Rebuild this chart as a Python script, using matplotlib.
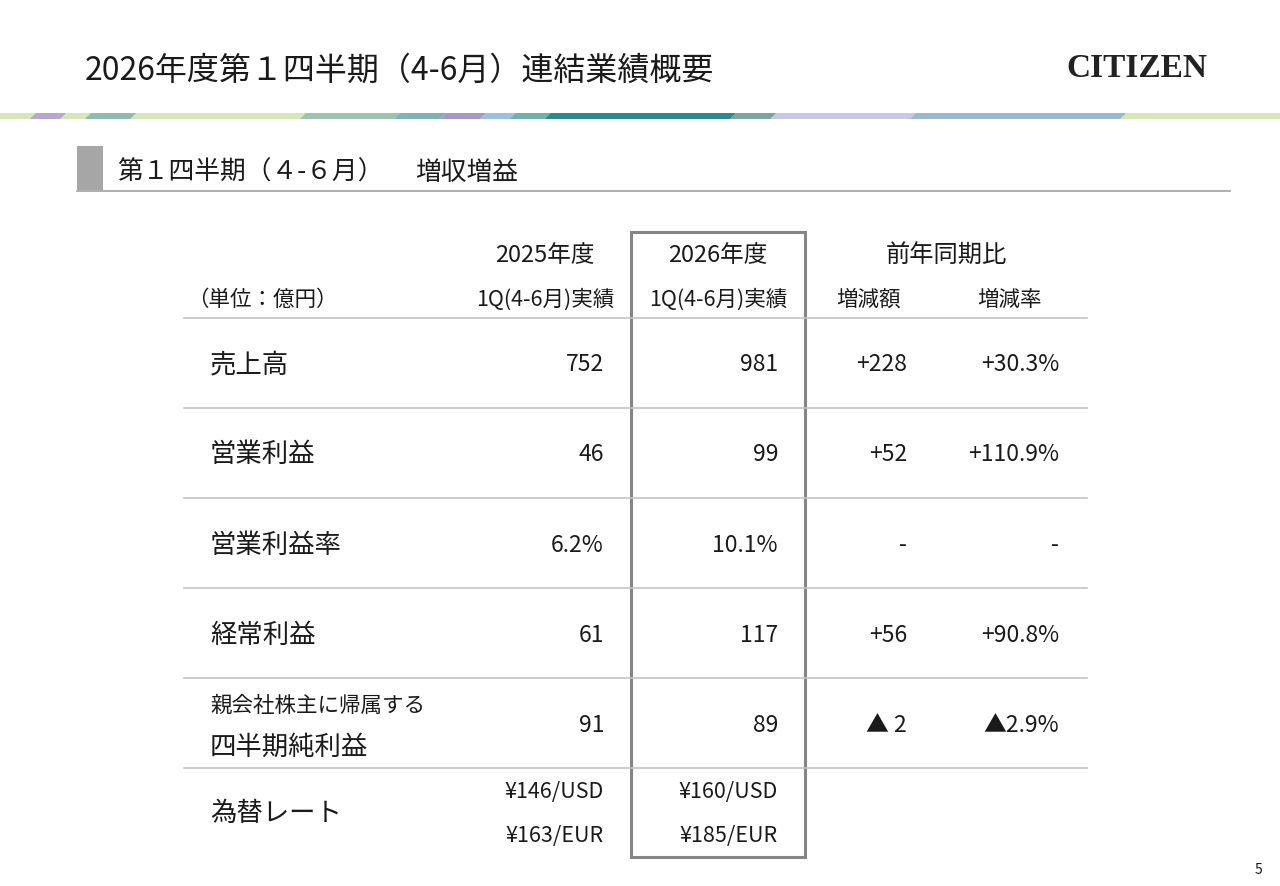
import matplotlib
matplotlib.use("Agg")
import matplotlib.pyplot as plt
from matplotlib.patches import Rectangle, Polygon

plt.rcParams['font.family'] = ['Noto Sans CJK JP', 'DejaVu Sans']

# table data
row_labels = ["売上高", "営業利益", "営業利益率", "経常利益", "四半期純利益"]
prev_vals = ["752", "46", "6.2%", "61", "91"]
curr_vals = ["981", "99", "10.1%", "117", "89"]
diff_vals = ["+228", "+52", "-", "+56", "▲ 2"]
rate_vals = ["+30.3%", "+110.9%", "-", "+90.8%", "▲2.9%"]
fx_prev = ["¥146/USD", "¥163/EUR"]
fx_curr = ["¥160/USD", "¥185/EUR"]

W, H = 1280, 886
fig = plt.figure(figsize=(W / 100, H / 100), dpi=100)
ax = fig.add_axes([0, 0, 1, 1])
ax.set_xlim(0, W)
ax.set_ylim(H, 0)
ax.axis('off')

txt = '#1a1a1a'
dy = 2.5  # CJK fonts sit a little high with va='center'

# title and logo
ax.text(85, 68 + dy, "2026年度第１四半期（4-6月）連結業績概要", fontsize=23, color=txt,
        va='center', ha='left')
ax.text(1207, 68, "CITIZEN", fontsize=24, fontweight='bold', color='#222222',
        family='Liberation Serif', va='center', ha='right')

# decorative stripe
ax.add_patch(Rectangle((0, 113), W, 6, color='#d5e6b8', lw=0))
segs = [(30, 60, '#b7a6cf'), (85, 130, '#8fbcae'), (300, 400, '#9fc2ae'),
        (395, 440, '#7fb2b4'), (440, 480, '#a898c8'), (480, 520, '#9ec0e0'),
        (510, 560, '#6fb3a8'), (545, 730, '#2a8a8e'), (730, 780, '#7aa5a0'),
        (770, 910, '#c9c8e4'), (910, 1120, '#9ab9cc')]
for x0, x1, c in segs:
    ax.add_patch(Polygon([(x0 + 6, 113), (x1 + 6, 113), (x1, 119), (x0, 119)],
                         closed=True, color=c, lw=0))

# section header
ax.add_patch(Rectangle((77, 146), 26, 44, color='#a6a6a6', lw=0))
ax.plot([77, 1230], [190.5, 190.5], color='#a0a0a0', lw=1.2)
ax.text(117, 170 + dy, "第１四半期（４-６月）", fontsize=18.5, color=txt,
        va='center', ha='left')
ax.text(415, 170 + dy, "増収増益", fontsize=18.5, color=txt, va='center', ha='left')

# column headers
hx = [545, 718]
for x, yr in zip(hx, ["2025年度", "2026年度"]):
    ax.text(x, 253 + dy, yr, fontsize=17, color=txt, ha='center', va='center')
    ax.text(x, 297 + dy, "1Q(4-6月)実績", fontsize=15.5, color=txt,
            ha='center', va='center')
ax.text(946, 253 + dy, "前年同期比", fontsize=17.5, color=txt, ha='center', va='center')
ax.text(869, 297 + dy, "増減額", fontsize=15.5, color=txt, ha='center', va='center')
ax.text(1010, 297 + dy, "増減率", fontsize=15.5, color=txt, ha='center', va='center')
ax.text(187, 297 + dy, "（単位：億円）", fontsize=15.5, color=txt, ha='left', va='center')

# row lines
for y in [318, 408, 498, 588, 678, 768]:
    ax.plot([184, 1087], [y, y], color='#c4c4c4', lw=1.2)

# body rows
cols = [604, 778, 907, 1059]
for i, lab in enumerate(row_labels):
    yc = 362 + i * 90.3 + dy
    if i == 4:
        ax.text(210, 703 + dy, "親会社株主に帰属する", fontsize=15.5, color=txt,
                ha='left', va='center')
        ax.text(210, 745 + dy, lab, fontsize=19, color=txt, ha='left', va='center')
    else:
        ax.text(210, yc, lab, fontsize=19, color=txt, ha='left', va='center')
    for x, v in zip(cols, [prev_vals[i], curr_vals[i], diff_vals[i], rate_vals[i]]):
        ax.text(x, yc, v, fontsize=16.5, color=txt, ha='right', va='center')

# fx rows
ax.text(210, 811 + dy, "為替レート", fontsize=19, color=txt, ha='left', va='center')
for j, y in enumerate([790, 834]):
    ax.text(cols[0], y + dy, fx_prev[j], fontsize=15.5, color=txt, ha='right', va='center')
    ax.text(cols[1], y + dy, fx_curr[j], fontsize=15.5, color=txt, ha='right', va='center')

# highlight box around current year column
ax.add_patch(Rectangle((631, 232), 174, 625, fill=False, edgecolor='#858585', lw=2.2))

ax.text(1262, 870, "5", fontsize=10, color=txt, ha='right', va='center')

fig.savefig("out.png", dpi=100)
